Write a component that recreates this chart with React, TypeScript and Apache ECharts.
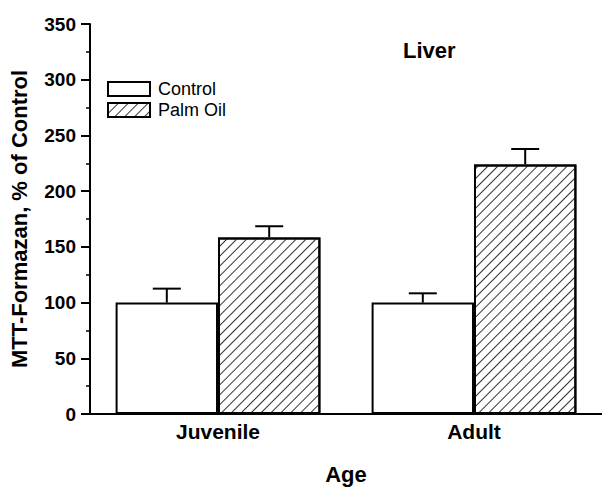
import React, { useEffect, useRef } from "react";
import * as echarts from "echarts";

const categories = ["Juvenile", "Adult"];
const seriesNames = ["Control", "Palm Oil"];
const controlValues = [100, 100];
const palmOilValues = [158.5, 224];
const controlErrorTop = [112.5, 108.3];
const palmOilErrorTop = [168.5, 237.8];
const yTicks = [0, 350, 50];

const FONT = "Liberation Sans, Arial, sans-serif";

export default function App() {
  const ref = useRef<HTMLDivElement>(null);
  useEffect(() => {
    if (!ref.current) return;
    document.body.style.margin = "0";
    const chart = echarts.init(ref.current, undefined, { renderer: "svg" });

    const makeErr = (name: string, tops: number[], bases: number[], side: number) => ({
      type: "custom",
      name: name + " error",
      z: 5,
      silent: true,
      data: tops.map((t, i) => [i, bases[i], t]),
      renderItem: (params: any, api: any) => {
        const idx = api.value(0);
        const band = api.size([1, 0])[0];
        const dx = side * band * 0.2;
        const base = api.coord([idx, api.value(1)]);
        const top = api.coord([idx, api.value(2)]);
        const x = base[0] + dx;
        const half = 14;
        const st = { stroke: "#000", lineWidth: 2 };
        return {
          type: "group",
          children: [
            { type: "line", shape: { x1: x, y1: base[1], x2: x, y2: top[1] }, style: st },
            { type: "line", shape: { x1: x - half, y1: top[1], x2: x + half, y2: top[1] }, style: st },
          ],
        };
      },
    });

    chart.setOption({
      animation: false,
      title: {
        text: "Liver",
        left: 398,
        top: 34,
        textStyle: { fontFamily: FONT, fontSize: 22, fontWeight: "bold", color: "#000" },
      },
      legend: {
        orient: "vertical",
        left: 102,
        top: 75,
        itemWidth: 42,
        itemHeight: 14,
        itemGap: 3,
        icon: "rect",
        data: seriesNames,
        textStyle: { fontFamily: FONT, fontSize: 18, color: "#000", padding: [0, 0, 0, 3] },
      },
      grid: { left: 88, right: -6, top: 24, bottom: 72, containLabel: false },
      xAxis: {
        type: "category",
        data: categories,
        name: "Age",
        nameLocation: "middle",
        nameGap: 49,
        nameTextStyle: { fontFamily: FONT, fontSize: 22, fontWeight: "bold", color: "#000" },
        axisLine: { lineStyle: { color: "#000", width: 2 } },
        axisTick: { show: false },
        axisLabel: { fontFamily: FONT, fontSize: 21, fontWeight: "bold", color: "#000", margin: 7 },
      },
      yAxis: {
        type: "value",
        min: yTicks[0],
        max: yTicks[1],
        interval: yTicks[2],
        name: "MTT-Formazan, % of Control",
        nameLocation: "middle",
        nameGap: 60,
        nameTextStyle: { fontFamily: FONT, fontSize: 22, fontWeight: "bold", color: "#000" },
        axisLine: { show: true, lineStyle: { color: "#000", width: 2 } },
        axisTick: { show: true, length: 9, lineStyle: { color: "#000", width: 2 } },
        minorTick: { show: true, splitNumber: 2, length: 4, lineStyle: { color: "#000", width: 1.5 } },
        splitLine: { show: false },
        minorSplitLine: { show: false },
        axisLabel: { fontFamily: FONT, fontSize: 19, fontWeight: "bold", color: "#000", margin: 14 },
      },
      series: [
        {
          type: "bar",
          name: seriesNames[0],
          data: controlValues,
          barWidth: "40%",
          barGap: "0%",
          itemStyle: { color: "#fff", borderColor: "#000", borderWidth: 2 },
        },
        {
          type: "bar",
          name: seriesNames[1],
          data: palmOilValues,
          barWidth: "40%",
          barGap: "0%",
          itemStyle: {
            color: "#fff",
            borderColor: "#000",
            borderWidth: 2,
            decal: {
              symbol: "rect",
              symbolSize: 1,
              dashArrayX: [1, 0],
              dashArrayY: [1, 6],
              rotation: -Math.PI / 4,
              color: "#333",
            },
          },
        },
        makeErr(seriesNames[0], controlErrorTop, controlValues, -1),
        makeErr(seriesNames[1], palmOilErrorTop, palmOilValues, 1),
      ],
    });
    return () => chart.dispose();
  }, []);
  return <div ref={ref} style={{ width: 602, height: 490 }} />;
}
